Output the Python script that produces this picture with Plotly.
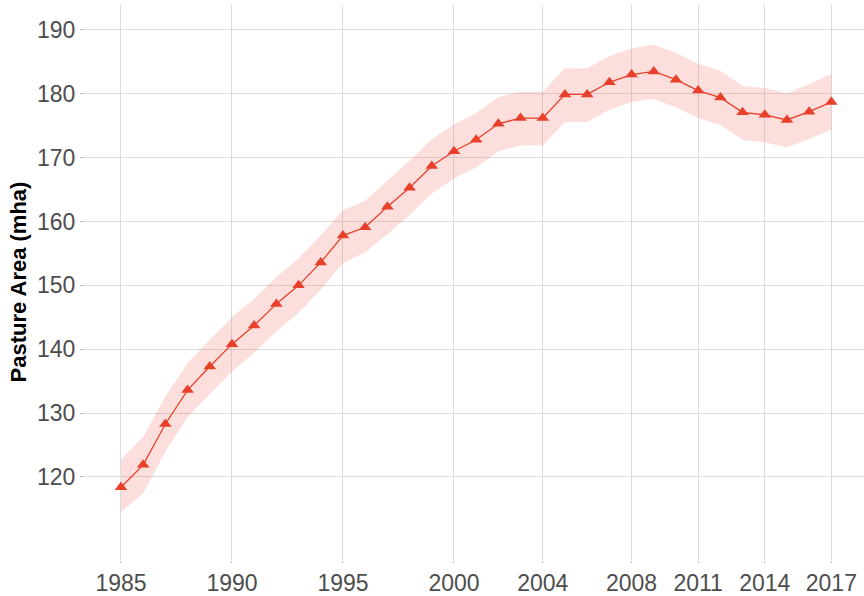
import plotly.graph_objects as go

# Pasture area estimates (million hectares) with uncertainty band
years = list(range(1985, 2018))
pasture = [118.4, 121.9, 128.3, 133.6, 137.3, 140.8, 143.7, 147.1, 150.0, 153.6,
           157.8, 159.1, 162.3, 165.3, 168.7, 171.0, 172.8, 175.3, 176.2, 176.2,
           179.9, 179.9, 181.8, 183.0, 183.5, 182.2, 180.5, 179.4, 177.1, 176.7,
           175.9, 177.2, 178.7]
upper = [122.7, 126.3, 132.6, 137.8, 141.5, 145.0, 147.9, 151.3, 154.2, 157.8,
         161.8, 163.2, 166.4, 169.5, 172.9, 175.2, 177.0, 179.5, 180.3, 180.3,
         184.0, 184.0, 185.9, 187.1, 187.7, 186.4, 184.7, 183.6, 181.2, 180.9,
         180.1, 181.5, 183.1]
lower = [114.5, 117.4, 124.0, 129.3, 133.0, 136.5, 139.4, 142.8, 145.7, 149.3,
         153.5, 155.2, 158.0, 161.0, 164.4, 166.7, 168.5, 171.0, 171.9, 171.9,
         175.6, 175.6, 177.5, 178.7, 179.2, 177.9, 176.2, 175.1, 172.8, 172.4,
         171.6, 172.9, 174.4]

x_ticks = [1985, 1990, 1995, 2000, 2004, 2008, 2011, 2014, 2017]
y_ticks = [120, 130, 140, 150, 160, 170, 180, 190]

fig = go.Figure()

# Ribbon: upper then lower filled to it
fig.add_trace(go.Scatter(x=years, y=upper, mode='lines', line=dict(width=0),
                         showlegend=False, hoverinfo='skip'))
fig.add_trace(go.Scatter(x=years, y=lower, mode='lines', line=dict(width=0),
                         fill='tonexty', fillcolor='rgba(240,110,100,0.22)',
                         showlegend=False, hoverinfo='skip'))

# Main line with triangle markers
fig.add_trace(go.Scatter(x=years, y=pasture, mode='lines+markers',
                         line=dict(color='#E8402A', width=1.3),
                         marker=dict(symbol='triangle-up', size=11, color='#E8402A'),
                         showlegend=False))

fig.update_layout(
    width=864, height=596,
    margin=dict(l=85, r=0, t=5, b=36),
    plot_bgcolor='white', paper_bgcolor='white',
    font=dict(family='Liberation Sans, Arial, sans-serif'),
)
fig.update_xaxes(
    range=[1983.38, 2018.47], tickvals=x_ticks, automargin=False,
    tickfont=dict(size=23, color='#4D4D4D'),
    showgrid=True, gridcolor='#DCDCDC', gridwidth=1,
    ticks='outside', ticklen=2, tickcolor='#BBBBBB',
    zeroline=False, showline=False,
)
fig.update_yaxes(
    range=[107.0, 193.9], tickvals=y_ticks, automargin=False,
    tickfont=dict(size=23, color='#4D4D4D'),
    showgrid=True, gridcolor='#DCDCDC', gridwidth=1,
    ticks='outside', ticklen=4, tickcolor='#BBBBBB',
    zeroline=False, showline=False,
)

# y-axis title as a rotated annotation
fig.add_annotation(text='<b>Pasture Area (mha)</b>', xref='paper', yref='paper',
                   x=0, y=0.5, xanchor='center', yanchor='middle', xshift=-67,
                   textangle=-90, showarrow=False,
                   font=dict(size=22, color='black'))

# remove the page's default body margin so the figure fills the window
fig.write_html("out.html", config={'displayModeBar': False},
               post_script="document.body.style.margin='0';")
